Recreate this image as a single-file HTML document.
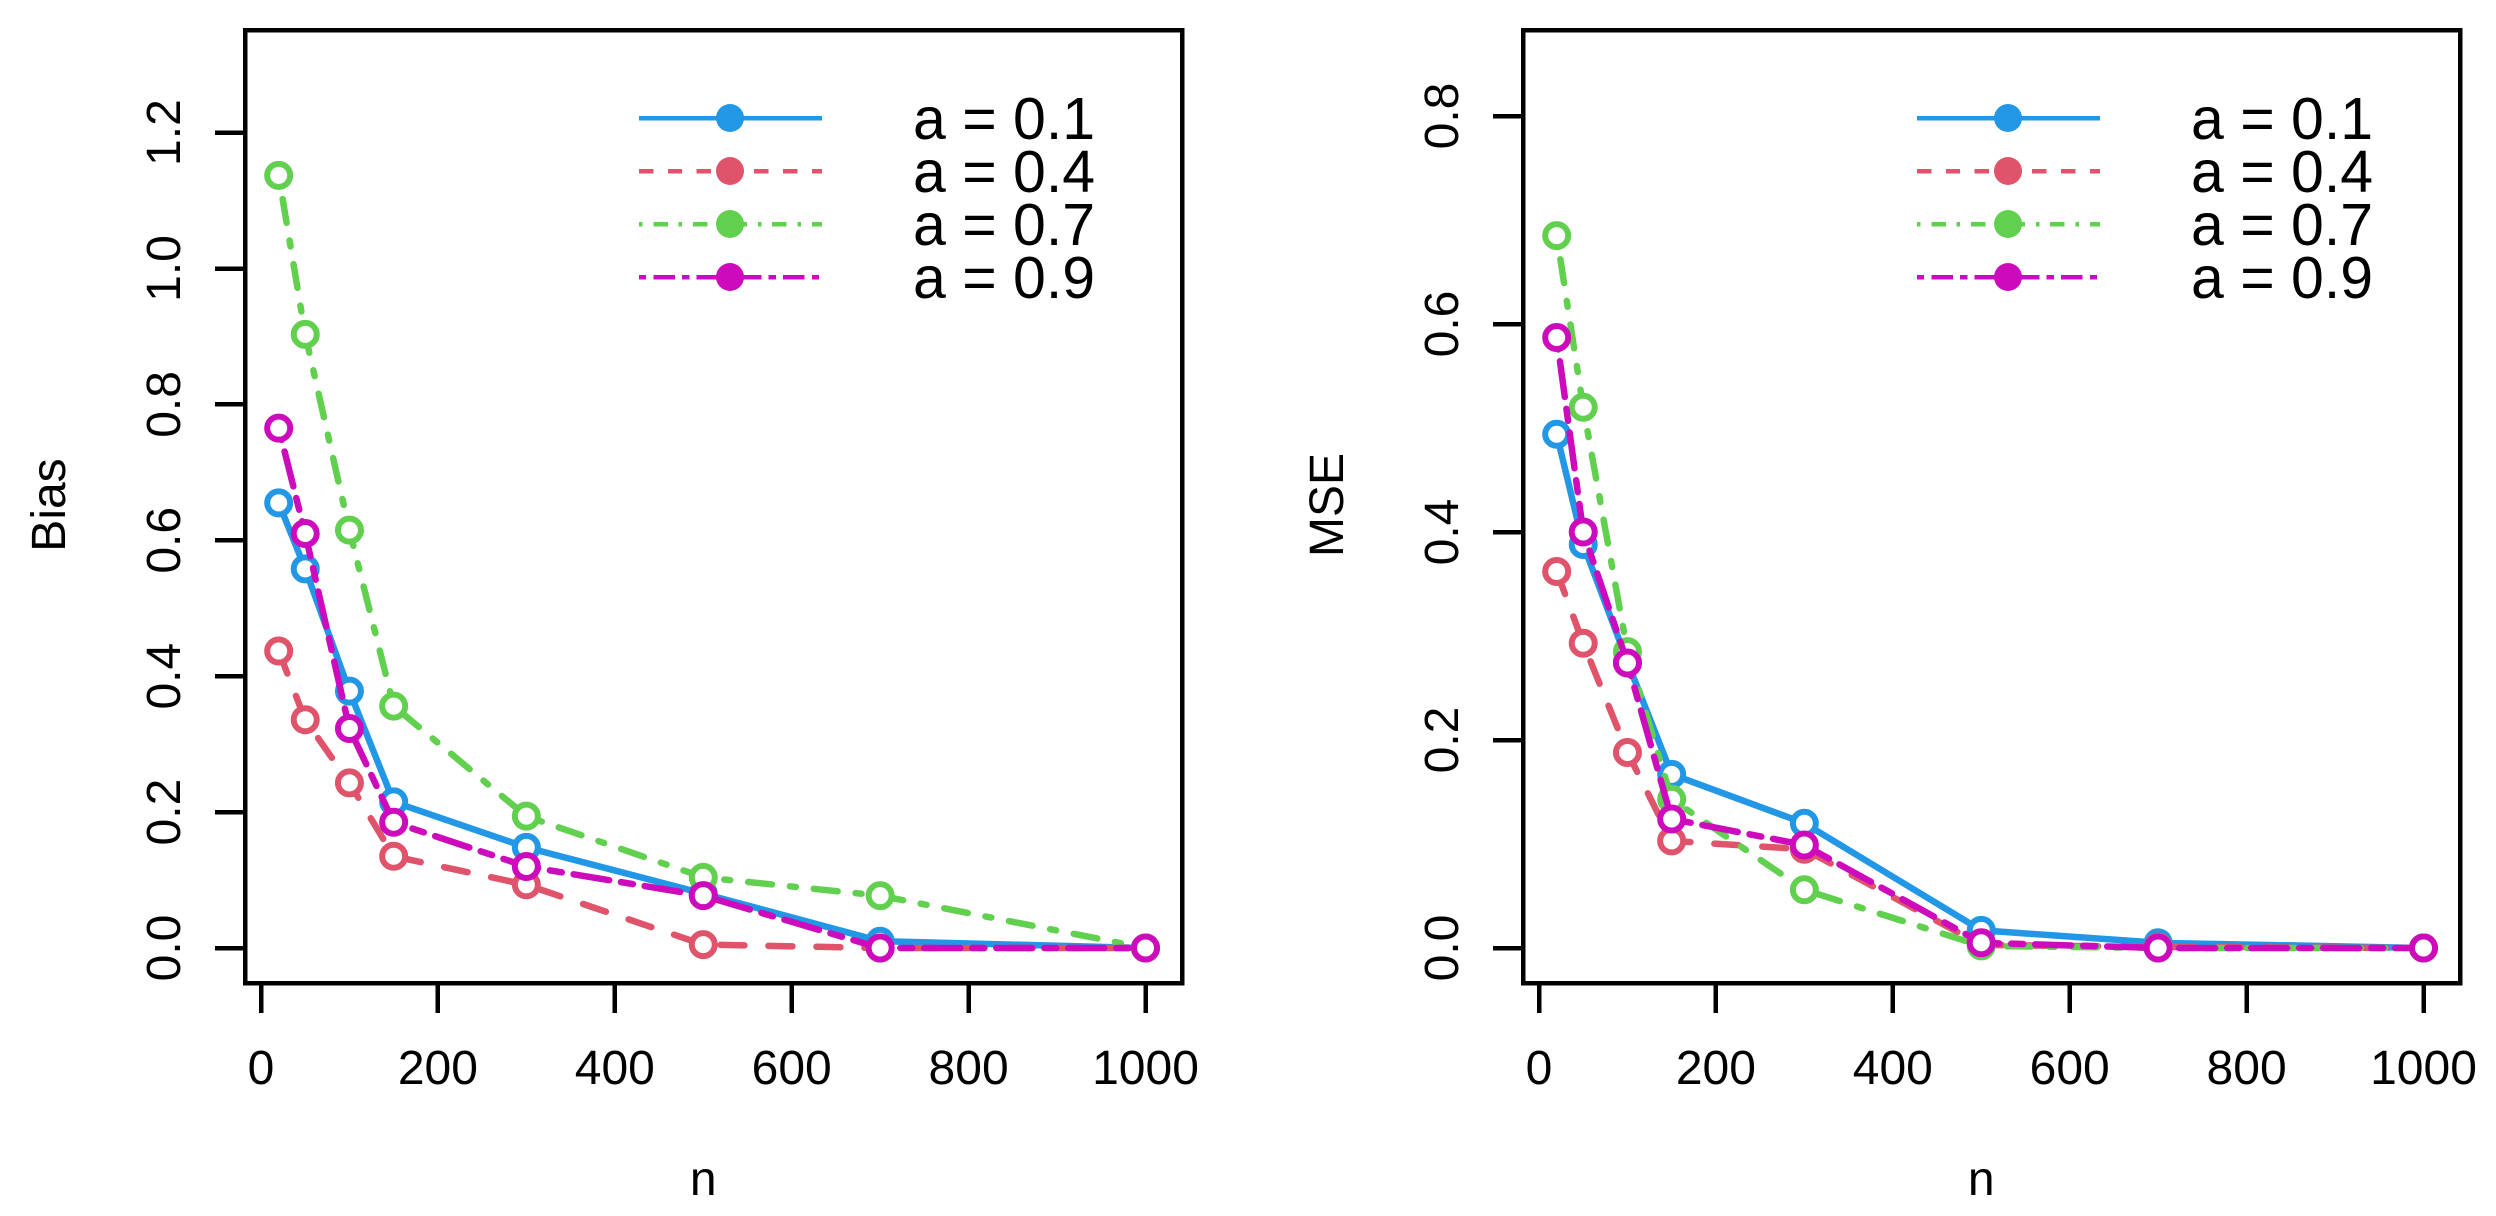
<!DOCTYPE html>
<html><head><meta charset="utf-8"><style>
html,body{margin:0;padding:0;background:#fff;}
svg{display:block;font-family:"Liberation Sans",sans-serif;}
</style></head><body>
<svg id="s" width="2496" height="1216" xmlns="http://www.w3.org/2000/svg" shape-rendering="crispEdges"></svg>
<script>
const S=document.getElementById('s');const NS='http://www.w3.org/2000/svg';
function el(t,a,txt){const e=document.createElementNS(NS,t);for(const k in a)e.setAttribute(k,a[k]);if(txt!==undefined)e.textContent=txt;S.appendChild(e);return e;}
const ns=[20,50,100,150,300,500,700,1000];
const cols=['#2297E6','#DF536B','#61D04F','#CD0BBC'];
const dashes=['none','24 24','6 18 24 18','12 12 36 12'];
const bias=[[0.655,0.558,0.378,0.215,0.148,0.08,0.01,0],[0.437,0.336,0.243,0.135,0.093,0.005,0.0,0],[1.137,0.903,0.615,0.356,0.194,0.104,0.077,0],[0.765,0.61,0.323,0.185,0.12,0.077,0.0,0]];
const mse=[[0.494,0.388,0.275,0.167,0.12,0.017,0.005,0],[0.362,0.293,0.188,0.103,0.095,0.003,0.001,0],[0.685,0.52,0.285,0.143,0.056,0.002,0.0,0],[0.587,0.4,0.274,0.124,0.099,0.005,0.0,0]];
function panel(off,data,yscale,yticks,ylab){
 const X=n=>261+off+n*0.8845, Y=v=>948-v*yscale;
 el('rect',{x:245+off,y:30,width:937,height:953,fill:'none',stroke:'#000','stroke-width':4.5});
 for(const t of [0,200,400,600,800,1000]){el('line',{x1:X(t),x2:X(t),y1:985,y2:1013,stroke:'#000','stroke-width':4.5});
  el('text',{x:X(t),y:1084,'font-size':48,'text-anchor':'middle'},String(t));}
 for(const t of yticks){const y=Y(t);el('line',{x1:215+off,x2:245+off,y1:y,y2:y,stroke:'#000','stroke-width':4.5});
  el('text',{x:0,y:0,'font-size':48,'text-anchor':'middle',transform:`translate(${180+off},${y}) rotate(-90)`},t.toFixed(1));}
 el('text',{x:0,y:0,'font-size':48,'text-anchor':'middle',transform:`translate(${65+off},505) rotate(-90)`},ylab);
 el('text',{x:X(500),y:1195,'font-size':48,'text-anchor':'middle'},'n');
 data.forEach((d,i)=>{
  const pts=ns.map((n,j)=>X(n).toFixed(1)+','+Y(d[j]).toFixed(1)).join(' ');
  el('polyline',{points:pts,fill:'none',stroke:cols[i],'stroke-width':6.5,'stroke-dasharray':dashes[i],'stroke-linecap':'round','shape-rendering':'auto'});
  ns.forEach((n,j)=>el('circle',{cx:X(n),cy:Y(d[j]),r:11.5,fill:'#fff',stroke:cols[i],'stroke-width':6,'shape-rendering':'auto'}));
 });
 const rows=[118,171,224,277],labs=['0.1','0.4','0.7','0.9'];
 rows.forEach((y,i)=>{
  el('line',{x1:639+off,x2:822+off,y1:y,y2:y,stroke:cols[i],'stroke-width':4.5,'stroke-dasharray':dashes[i]==='none'?'none':dashes[i].split(' ').map(v=>v*0.6).join(' ')});
  el('circle',{cx:730+off,cy:y,r:14,fill:cols[i],'shape-rendering':'auto'});
  el('text',{x:913+off,y:y+21,'font-size':59},'a = '+labs[i]);
 });
}
panel(0,bias,679.5,[0,0.2,0.4,0.6,0.8,1.0,1.2],'Bias');
panel(1278,mse,1040,[0,0.2,0.4,0.6,0.8],'MSE');
</script>
</body></html>
